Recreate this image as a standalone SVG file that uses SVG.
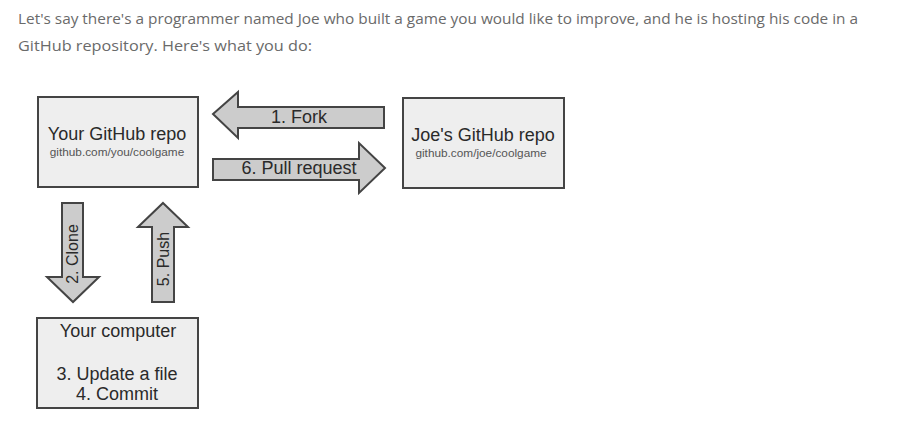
<svg xmlns="http://www.w3.org/2000/svg" width="898" height="431" viewBox="0 0 898 431">
<style>
.intro{font-family:"Open Sans","Liberation Sans",sans-serif;font-size:14px;fill:#6a6a6a}
.box{fill:#eeeeee;stroke:#444;stroke-width:2}
.arrow{fill:#cccccc;stroke:#444;stroke-width:2;stroke-linejoin:miter}
.t{font-family:"Liberation Sans",Arial,sans-serif;fill:#2a2a2a;text-anchor:middle}
.big{font-size:18px}
.small{font-size:11.8px;fill:#555}
.lbl{font-size:18px}
.vlbl{font-size:16px}
</style>
<rect width="898" height="431" fill="#ffffff"/>
<text class="intro" x="18" y="24" textLength="840" lengthAdjust="spacingAndGlyphs">Let's say there's a programmer named Joe who built a game you would like to improve, and he is hosting his code in a</text>
<text class="intro" x="18" y="51" textLength="294" lengthAdjust="spacingAndGlyphs">GitHub repository. Here's what you do:</text>
<g id="connectors">
<g id="fork">
<polygon class="arrow" points="213,114 238,92 238,107 384,107 384,128 238,128 238,138"/>
<text class="t lbl" x="299" y="123">1. Fork</text>
</g>
<g id="pull">
<polygon class="arrow" points="213,159 359,159 359,143 385,168 359,193 359,180 213,180"/>
<text class="t lbl" x="299" y="174">6. Pull request</text>
</g>
<g id="clone">
<polygon class="arrow" points="62,203 83,203 83,277 99,277 73,302 47,277 62,277"/>
<text class="t vlbl" transform="translate(78,254) rotate(-90)">2. Clone</text>
</g>
<g id="push">
<polygon class="arrow" points="163,203 188,227 174,227 174,302 152,302 152,227 138,227"/>
<text class="t vlbl" transform="translate(169,259) rotate(-90)">5. Push</text>
</g>
</g>
<g id="your-repo">
<rect class="box" x="38" y="97" width="160" height="90"/>
<text class="t big" x="117" y="140">Your GitHub repo</text>
<text class="t small" x="117" y="156">github.com/you/coolgame</text>
</g>
<g id="joe-repo">
<rect class="box" x="403" y="98" width="161" height="90"/>
<text class="t big" x="483" y="141">Joe's GitHub repo</text>
<text class="t small" x="481" y="157">github.com/joe/coolgame</text>
</g>
<g id="computer">
<rect class="box" x="37" y="318" width="161" height="90"/>
<text class="t lbl" x="118" y="337">Your computer</text>
<text class="t lbl" x="117" y="380">3. Update a file</text>
<text class="t lbl" x="117" y="400">4. Commit</text>
</g>
</svg>
